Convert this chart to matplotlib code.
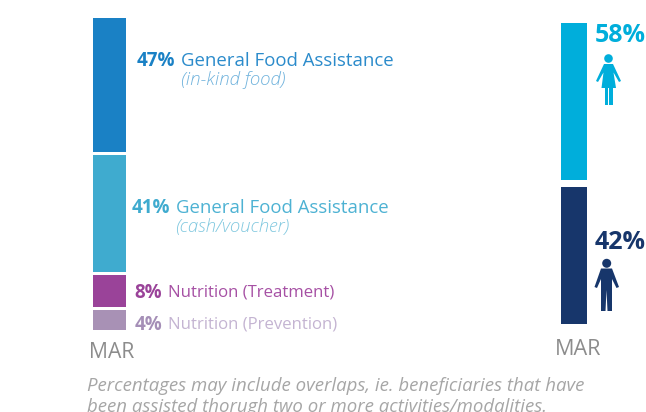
import matplotlib
matplotlib.use("Agg")
import matplotlib.pyplot as plt
from matplotlib.patches import Circle, Polygon

W, H = 646, 412
plt.rcParams['font.family'] = ['Open Sans', 'DejaVu Sans']

# data
modality_pct = ['47%', '41%', '8%', '4%']
modality_names = ['General Food Assistance', 'General Food Assistance', 'Nutrition (Treatment)', 'Nutrition (Prevention)']
modality_notes = ['(in-kind food)', '(cash/voucher)', '', '']
modality_lengths = [134, 117, 32, 20]      # drawn lengths
modality_colors = ['#1A81C5', '#3FABCF', '#9A4399', '#A891B5']
modality_text = ['#2B8BCB', '#4DB2D3', '#A650A4', '#C4B4D2']
modality_note_text = ['#6FB2DC', '#80C8DF', '', '']
modality_pct_text = ['#1A81C5', '#3FABCF', '#9A4399', '#A58FB7']
gender_pct = ['58%', '42%']
gender_lengths = [157, 137]                # drawn lengths
gender_colors = ['#00AEDB', '#17366B']
category = 'MAR'
note_lines = ['Percentages may include overlaps, ie. beneficiaries that have',
              'been assisted thorugh two or more activities/modalities.']

fig = plt.figure(figsize=(W / 100, H / 100), dpi=100, facecolor='white')


def stacked(x0, x1, y0, y1, lengths, colors, gap):
    ax = fig.add_axes([x0 / W, 1 - y1 / H, (x1 - x0) / W, (y1 - y0) / H])
    ax.set_xlim(-0.5, 0.5)
    ax.set_ylim(y1 - y0, 0)
    top = 0
    for length, color in zip(lengths, colors):
        ax.bar(0, length, width=1, bottom=top, color=color, linewidth=0)
        top += length + gap
    ax.axis('off')
    return ax


stacked(93, 125.5, 18, 330, modality_lengths, modality_colors, 3)
stacked(561, 586.5, 23, 324, gender_lengths, gender_colors, 7)

# overlay in pixel coordinates for labels and icons
ov = fig.add_axes([0, 0, 1, 1], facecolor='none')
ov.set_xlim(0, W)
ov.set_ylim(H, 0)
ov.axis('off')

label_y = [60.5, 207.5, 292.5, 324.5]
pct_right = [175.5, 170.5, 162, 162]
name_left = [181, 175.5, 168.5, 168.5]
name_fs = [13.45, 13.45, 12.1, 12.1]
pct_fs = [13.5, 13.5, 13.5, 13.5]
for i in range(4):
    ov.text(pct_right[i], label_y[i], modality_pct[i], ha='right', va='center', fontsize=pct_fs[i],
            fontweight='bold', color=modality_pct_text[i])
    ov.text(name_left[i], label_y[i], modality_names[i], ha='left', va='center', fontsize=name_fs[i],
            color=modality_text[i])
    if modality_notes[i]:
        ov.text(name_left[i], label_y[i] + 19, modality_notes[i], ha='left', va='center', fontsize=13.4,
                style='italic', fontweight='light', color=modality_note_text[i])

ov.text(112, 353, category, ha='center', va='center', fontsize=15.2, color='#8C8C8C')
ov.text(578, 349.5, category, ha='center', va='center', fontsize=15.6, color='#8C8C8C')

ov.text(620, 35, gender_pct[0], ha='center', va='center', fontsize=18, fontweight='bold', color=gender_colors[0])
ov.text(620, 242, gender_pct[1], ha='center', va='center', fontsize=18, fontweight='bold', color=gender_colors[1])

for line, y in zip(note_lines, [386, 406.5]):
    ov.text(87, y, line, ha='left', va='center', fontsize=13.4, style='italic', color='#A6A6A6')

# woman icon
c = gender_colors[0]
ov.add_patch(Circle((608.5, 58.5), 4.3, color=c, lw=0))
ov.add_patch(Polygon([(604, 64), (613, 64), (621, 81), (619, 82), (613.5, 72.5), (616, 88), (601.5, 88),
                      (603.5, 72.5), (598, 82), (596, 81)], color=c, lw=0))
ov.add_patch(Polygon([(604.5, 88), (608, 88), (608, 105), (604.5, 105)], color=c, lw=0))
ov.add_patch(Polygon([(609, 88), (612.5, 88), (612.5, 105), (609, 105)], color=c, lw=0))

# man icon
c = gender_colors[1]
ov.add_patch(Circle((606.7, 263.3), 4.5, color=c, lw=0))
ov.add_patch(Polygon([(601, 268.5), (612, 268.5), (619, 287), (616.5, 288), (612, 279), (612, 311), (607.5, 311),
                      (606.5, 290), (605.5, 311), (601, 311), (601, 279), (597, 288), (594.5, 287)], color=c, lw=0))

fig.savefig('out.png', dpi=100)
